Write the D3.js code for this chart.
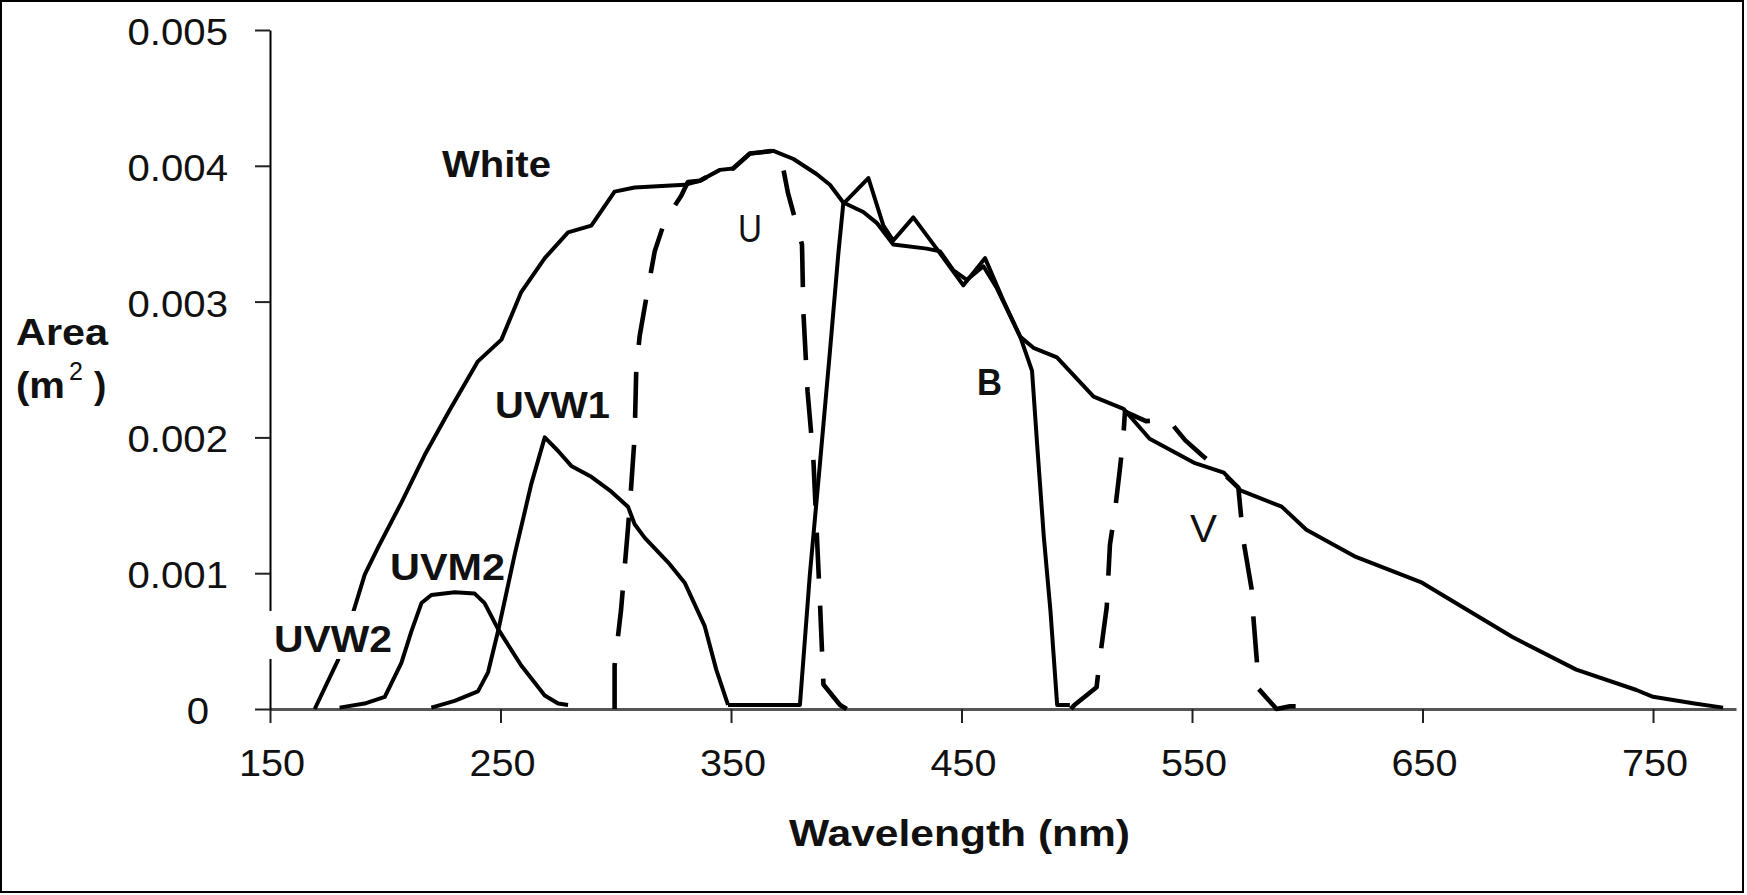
<!DOCTYPE html>
<html><head><meta charset="utf-8">
<script src="https://cdn.jsdelivr.net/npm/d3@7"></script>
<style>html,body{margin:0;padding:0;background:#fff;} svg{display:block;font-family:"Liberation Sans",Arial,sans-serif;}</style>
</head><body><svg id="c" width="1747" height="895"></svg>
<script>
// ---- data: [wavelength nm, effective area m^2] ----
const xTickValues = [150, 250, 350, 450, 550, 650, 750];
const yTickValues = [0, 0.001, 0.002, 0.003, 0.004, 0.005];

const whiteCurve = [[169.4,0],[179.5,0.00036],[186.4,0.00073],[191.1,0.00099],[196.9,0.00119],[207,0.00152],[217.1,0.00187],[227.9,0.0022],[240.2,0.00256],[250.4,0.00272],[259,0.00307],[269.2,0.00332],[279.3,0.00351],[289.4,0.00356],[299.5,0.00381],[308.2,0.00384],[329.9,0.00386],[336.5,0.00389],[345.2,0.00397],[350.9,0.00398],[358.2,0.00409],[368.4,0.00411],[377.1,0.00405],[387.1,0.00394],[392.9,0.00386],[398.7,0.00373],[407.4,0.00366],[413.2,0.00358],[420.4,0.00342],[434.9,0.00339],[440.7,0.00337],[446.5,0.00323],[452.3,0.00316],[459.5,0.00326],[465.3,0.0031],[475.5,0.00274],[481.2,0.00266],[491.4,0.00259],[507.3,0.0023],[520.3,0.00221],[531.6,0.00199],[551.3,0.00181],[563.8,0.00174],[571,0.00161],[588.9,0.00149],[599.6,0.00132],[621.1,0.00112],[649.8,0.00093],[689,0.00053],[716.7,0.00029],[742.8,0.00014],[750,0.00009],[768,0.00004],[780.4,0.00001]];

const uvm2Curve = [[180.2,0.00001],[191,0.00004],[199.8,0.00009],[207,0.00034],[211.3,0.00057],[215.7,0.00078],[220,0.00084],[230.1,0.00086],[238.8,0.00085],[243.1,0.00078],[248.9,0.00059],[259,0.00032],[269.2,0.0001],[275,0.00004],[279.3,0.00003]];

const uvw1Curve = [[220,0.00001],[230.1,0.00006],[240.2,0.00013],[244.6,0.00027],[248.9,0.00057],[256.2,0.00114],[263.4,0.00166],[269.2,0.002],[275,0.0019],[280.7,0.00179],[289.4,0.00171],[298.1,0.0016],[305.3,0.00149],[308.2,0.00136],[312.6,0.00126],[322.7,0.00108],[329.9,0.00093],[338.6,0.00061],[343.6,0.00029],[348.7,0.00003]];

const uCurve = [[299.5,0],[299.5,0.00032],[302.3,0.00073],[305.3,0.00133],[306.7,0.00164],[308.2,0.00201],[308.9,0.0025],[310.4,0.00275],[314,0.0031],[316.9,0.00337],[321.2,0.00359],[328.4,0.00378],[331.3,0.00388],[336.5,0.00389],[345.2,0.00397],[350.9,0.00398],[358.2,0.00409],[368.4,0.00411],[371.3,0.0041],[374.7,0.0038],[380.8,0.00342],[381.4,0.00292],[383.2,0.00234],[385.7,0.00185],[388.6,0.00078],[390.1,0.00018],[397.3,0.00003],[400.2,0]];

const bCurve = [[348.7,0.00003],[379.9,0.00003],[384.2,0.00099],[388.6,0.00181],[392.9,0.00263],[396.6,0.00336],[398.7,0.00372],[409.6,0.00391],[416.1,0.00356],[420.4,0.00345],[429.1,0.00362],[439.2,0.00339],[450.8,0.00312],[460.2,0.00332],[468.1,0.00301],[475.5,0.00274],[480.6,0.00249],[482.8,0.00195],[485.7,0.00127],[488.6,0.00072],[491.5,0.00003],[497,0.00003]];

const vCurve = [[497.5,0],[499,0.00003],[508.6,0.00016],[510,0.00037],[513,0.00075],[514.4,0.00121],[516.6,0.00146],[518.8,0.00178],[520.2,0.002],[520.9,0.00219],[530,0.00212],[539.7,0.00213],[547,0.00198],[554.2,0.00187],[562,0.00176],[570.1,0.00163],[572.3,0.00124],[575.9,0.00088],[576.6,0.00068],[578.1,0.00036],[578.8,0.00015],[586.7,0],[592.5,0.00002],[597.5,0.00002]];

const seriesNames = ["White","UVM2","UVW1","U","B","V"];
const seriesData = [whiteCurve, uvm2Curve, uvw1Curve, uCurve, bCurve, vCurve];
const seriesDashed = [false,false,false,true,false,true];

const labelTexts = ["White","U","B","V","UVW1","UVM2","UVW2"];
const labelNm =    [224.6, 353, 456.7, 549.1, 247.6, 202.1, 151.7];
const labelArea =  [0.003918, 0.003439, 0.002312, 0.00123, 0.002143, 0.00095, 0.00042];

// ---- layout ----
const W = 1747, H = 895;
const svg = d3.select('#c');
const x = d3.scaleLinear().domain([150, 786]).range([270, 1736]);
const y = d3.scaleLinear().domain([0, 0.005]).range([709, 30]);
const k = 1.1; // horizontal text stretch of the original picture

svg.append('rect').attr('width', W).attr('height', H).attr('fill', '#fff');
svg.append('rect').attr('x', 1).attr('y', 1).attr('width', 1742).attr('height', 891)
  .attr('fill', 'none').attr('stroke', '#000').attr('stroke-width', 2);

// x axis (gray)
const gx = svg.append('g').attr('transform', `translate(0,${y(0)})`)
  .call(d3.axisBottom(x).tickValues(xTickValues).tickSize(14).tickSizeOuter(0).tickFormat(''));
gx.select('.domain').attr('stroke', '#555').attr('stroke-width', 3);
gx.selectAll('.tick line').attr('stroke', '#222').attr('stroke-width', 2);

// y axis
const gy = svg.append('g').attr('transform', `translate(${x(150)},0)`)
  .call(d3.axisLeft(y).tickValues(yTickValues).tickSize(15).tickSizeOuter(0).tickFormat(''));
gy.select('.domain').attr('stroke', '#000').attr('stroke-width', 2);
gy.selectAll('.tick line').attr('stroke', '#222').attr('stroke-width', 2);

function fit(t, target) {
  const w = t.node().getComputedTextLength();
  const tw = target || w * k;
  t.attr('textLength', tw).attr('lengthAdjust', 'spacingAndGlyphs');
  return tw;
}

// y tick labels
const yFmt = v => v === 0 ? '0' : d3.format('.3f')(v);
yTickValues.forEach(v => {
  const t = svg.append('text').text(yFmt(v)).attr('font-size', 36.5).attr('fill', '#111');
  const tw = fit(t);
  const right = v === 0 ? x(150) - 61 : x(150) - 42;
  t.attr('x', right - tw).attr('y', y(v) + 15);
});
// x tick labels
xTickValues.forEach(v => {
  const t = svg.append('text').text(String(v)).attr('font-size', 36).attr('fill', '#111');
  const tw = fit(t);
  t.attr('x', x(v) - tw / 2 + 2).attr('y', 776);
});

// curves
const line = d3.line().x(d => x(d[0])).y(d => y(d[1]));
seriesData.forEach((data, i) => {
  svg.append('path').datum(data).attr('d', line)
    .attr('fill', 'none').attr('stroke', '#000')
    .attr('stroke-width', seriesDashed[i] ? 4.6 : 4)
    .attr('stroke-linejoin', 'round')
    .attr('stroke-dasharray', seriesDashed[i] ? '46,27' : null)
    .attr('class', 'series-' + seriesNames[i]);
});

// white box behind UVW2 label
const iW2 = labelTexts.indexOf('UVW2');
svg.append('rect').attr('x', x(labelNm[iW2]) - 12).attr('y', y(labelArea[iW2]) - 41)
  .attr('width', 138).attr('height', 48).attr('fill', '#fff');

// series labels
const labelWidths = {White:109, U:24, B:25, V:27, UVW1:115, UVM2:115, UVW2:118};
labelTexts.forEach((s, i) => {
  const regular = (s === 'U' || s === 'V');
  const t = svg.append('text').text(s)
    .attr('font-size', regular ? 38 : 37)
    .attr('font-weight', regular ? 'normal' : 'bold')
    .attr('fill', '#111')
    .attr('x', x(labelNm[i])).attr('y', y(labelArea[i]));
  fit(t, labelWidths[s]);
});

// axis titles
const tA = svg.append('text').text('Area').attr('font-size', 37).attr('font-weight', 'bold')
  .attr('x', 16).attr('y', 345).attr('fill', '#111');
fit(tA, 92);
const tM = svg.append('text').text('(m').attr('font-size', 37).attr('font-weight', 'bold')
  .attr('x', 16).attr('y', 398).attr('fill', '#111');
fit(tM, 49);
svg.append('text').text('2').attr('font-size', 25).attr('x', 69).attr('y', 380).attr('fill', '#111');
svg.append('text').text(')').attr('font-size', 37).attr('font-weight', 'bold')
  .attr('x', 94).attr('y', 398).attr('fill', '#111');
const tX = svg.append('text').text('Wavelength (nm)').attr('font-size', 36).attr('font-weight', 'bold')
  .attr('x', 789).attr('y', 846).attr('fill', '#111');
fit(tX, 341);
</script></body></html>
